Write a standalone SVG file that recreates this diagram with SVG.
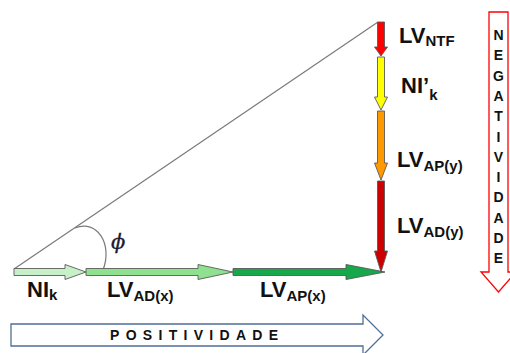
<svg xmlns="http://www.w3.org/2000/svg" width="510" height="353" viewBox="0 0 510 353">
<style>
.ar{stroke:#5a5a5a;stroke-width:0.9;stroke-linejoin:miter}
.lb{font-family:"Liberation Sans",Arial,sans-serif;font-weight:bold;font-size:22px;fill:#111}
.sb{font-size:15px}
.vt{font-family:"Liberation Sans",Arial,sans-serif;font-weight:bold;font-size:14px;fill:#111;text-anchor:middle}
</style>
<rect width="510" height="353" fill="#fff"/>
<g id="connectors">
<line x1="14" y1="269" x2="378" y2="22" stroke="#7a7a7a" stroke-width="1.2"/>
<path d="M75,228 C97,219 113,244 103,270" fill="none" stroke="#7a7a7a" stroke-width="1.2"/>
</g>
<g id="phi"><text x="111" y="249" font-family="DejaVu Serif,serif" font-style="italic" font-size="21" fill="#1b1b2f" stroke="#1b1b2f" stroke-width="0.3">ϕ</text></g>
<g id="NIk">
<path class="ar" fill="#c8f0c8" d="M14,268.5 H65 V264.5 L86,272 L65,279.5 V275.5 H14 Z"/>
<text class="lb" x="27" y="297">NI<tspan class="sb" dy="3">k</tspan></text>
</g>
<g id="LVADx">
<path class="ar" fill="#8fe08f" d="M86,268.5 H198 V264.5 L233,272 L198,279.5 V275.5 H86 Z"/>
<text class="lb" x="107" y="297">LV<tspan class="sb" dy="4">AD(x)</tspan></text>
</g>
<g id="LVAPx">
<path class="ar" fill="#16a84a" d="M233,268.5 H346 V264.5 L385,272 L346,279.5 V275.5 H233 Z"/>
<text class="lb" x="260" y="297">LV<tspan class="sb" dy="4">AP(x)</tspan></text>
</g>
<g id="LVNTF">
<path class="ar" fill="#ff0000" d="M377.5,22 H384.5 V47 H387.5 L381,56 L374.5,47 H377.5 Z"/>
<text class="lb" x="399" y="43">LV<tspan class="sb" dy="3">NTF</tspan></text>
</g>
<g id="NIpk">
<path class="ar" fill="#ffff00" d="M377.5,57 H384.5 V97 H387.5 L381,110 L374.5,97 H377.5 Z"/>
<text class="lb" x="401" y="93">NI’<tspan class="sb" dy="7" font-size="16">k</tspan></text>
</g>
<g id="LVAPy">
<path class="ar" fill="#ff9900" d="M377.5,111 H384.5 V163 H387.5 L381,180 L374.5,163 H377.5 Z"/>
<text class="lb" x="397" y="167">LV<tspan class="sb" dy="4">AP(y)</tspan></text>
</g>
<g id="LVADy">
<path class="ar" fill="#cc0000" d="M377.5,181 H384.5 V251 H387.5 L381,272 L374.5,251 H377.5 Z"/>
<text class="lb" x="397" y="233">LV<tspan class="sb" dy="4">AD(y)</tspan></text>
</g>
<g id="negatividade">
<path d="M489,12 H508 V272 H516 L498.5,292 L481,272 H489 Z" fill="#fff" stroke="#ff0000" stroke-width="1.3"/>
<text class="vt" x="498.5" y="40">N</text>
<text class="vt" x="498.5" y="60.3">E</text>
<text class="vt" x="498.5" y="80.6">G</text>
<text class="vt" x="498.5" y="100.9">A</text>
<text class="vt" x="498.5" y="121.2">T</text>
<text class="vt" x="498.5" y="141.5">I</text>
<text class="vt" x="498.5" y="161.8">V</text>
<text class="vt" x="498.5" y="182.1">I</text>
<text class="vt" x="498.5" y="202.4">D</text>
<text class="vt" x="498.5" y="222.7">A</text>
<text class="vt" x="498.5" y="243">D</text>
<text class="vt" x="498.5" y="263.3">E</text>
</g>
<g id="positividade">
<path d="M11,324 H363 V315 L383,335 L363,355 V346 H11 Z" fill="#fff" stroke="#4f6f96" stroke-width="1.3"/>
<text x="110" y="340" font-family="Liberation Sans,Arial,sans-serif" font-weight="bold" font-size="14" letter-spacing="6.3" fill="#111">POSITIVIDADE</text>
</g>
</svg>
